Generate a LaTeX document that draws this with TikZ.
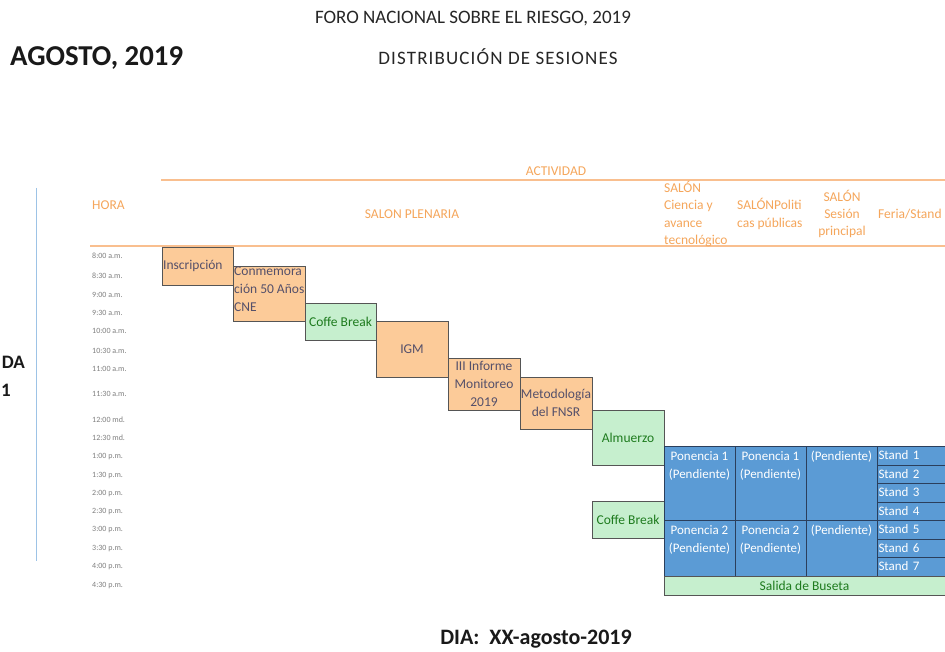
\documentclass[tikz,border=0pt]{standalone}
\usepackage{fontspec}
\setmainfont{Carlito}
\definecolor{orfill}{HTML}{FCCB99}
\definecolor{grfill}{HTML}{C6EFCE}
\definecolor{grtext}{HTML}{1E7B1E}
\definecolor{bluefill}{HTML}{5B9BD5}
\definecolor{bordergray}{HTML}{555555}
\definecolor{boxtext}{HTML}{55506A}
\definecolor{hdrorange}{HTML}{F5A65B}
\definecolor{hdrline}{HTML}{F9BF8F}
\definecolor{axisblue}{HTML}{9DC3E6}
\definecolor{timegray}{HTML}{7F7F7F}
\definecolor{bluegrid}{HTML}{2B3F5C}
\tikzset{
  x=1pt, y=-1pt,
  cell/.style={draw=bordergray, line width=0.9pt, anchor=north west, inner sep=1pt, outer sep=0pt},
  orbox/.style={cell, fill=orfill},
  grbox/.style={cell, fill=grfill, text=grtext, font=\fontsize{13.5}{18}\selectfont},
  boxlbl/.style={text=boxtext, font=\fontsize{13.5}{18}\selectfont, inner sep=0pt},
  bluebox/.style={draw=bluegrid, line width=0.8pt, fill=bluefill, text=white, anchor=north west, inner sep=1pt, outer sep=0pt, font=\fontsize{13}{18}\selectfont},
  bluelbl/.style={text=white, font=\fontsize{13}{18}\selectfont, align=center, anchor=north, inner sep=0pt},
  hdr/.style={text=hdrorange, font=\fontsize{13.5}{17.3}\selectfont, inner sep=0pt},
  timelbl/.style={text=timegray, font=\fontsize{8}{9}\selectfont, anchor=west, inner sep=0pt},
  title/.style={text=black!85, inner sep=0pt},
  boldlbl/.style={font=\bfseries, text=black!90, inner sep=0pt}
}
\begin{document}
\begin{tikzpicture}
\useasboundingbox[fill=white] (0,0) rectangle (945,652);
% titles
\node[title, font=\fontsize{19}{22}\selectfont] (t1) at (473,19) {FORO NACIONAL SOBRE EL RIESGO, 2019};
\node[title, font=\fontsize{19}{22}\selectfont\addfontfeatures{LetterSpace=6}] (t2) at (498,57) {DISTRIBUCIÓN DE SESIONES};
\node[boldlbl, font=\fontsize{28.8}{32}\selectfont\bfseries, anchor=west] (ago) at (10,58) {AGOSTO, 2019};
\node[boldlbl, font=\fontsize{22}{24}\selectfont\bfseries] (dia) at (536,639) {DIA:\ \ XX-agosto-2019};
% left side
\draw[axisblue, line width=1pt] (36,188) -- (36,561);
\node[boldlbl, font=\fontsize{19}{22}\selectfont\bfseries, anchor=east] (da) at (25,362) {DA};
\node[boldlbl, font=\fontsize{19}{22}\selectfont\bfseries, anchor=east] (one) at (11,390) {1};
% header lines
\draw[hdrline, line width=2pt] (161,180) -- (945,180);
\draw[hdrline, line width=2pt] (90,246) -- (945,246);
\node[hdr] (act) at (556,171) {ACTIVIDAD};
\node[hdr, anchor=west] (hora) at (92,205) {HORA};
\node[hdr] (plen) at (412,214) {SALON PLENARIA};
\node[hdr, anchor=west, align=left] (sc) at (664,214) {SALÓN\\Ciencia y\\avance\\tecnológico};
\node[hdr, anchor=west, align=left] (sp) at (737,214) {SALÓNPoliti\\cas públicas};
\node[hdr, align=center] (ss) at (842,214) {SALÓN\\Sesión\\principal};
\node[hdr, anchor=west] (fs) at (878,214) {Feria/Stand};
% times
\foreach \t/\y [count=\i] in {8:00 a.m./256, 8:30 a.m./276, 9:00 a.m./295, 9:30 a.m./313, 10:00 a.m./331, 10:30 a.m./351, 11:00 a.m./369, 11:30 a.m./394, 12:00 md./420, 12:30 md./438, 1:00 p.m./457, 1:30 p.m./476, 2:00 p.m./494, 2:30 p.m./512, 3:00 p.m./530, 3:30 p.m./549, 4:00 p.m./567, 4:30 p.m./586}
  \node[timelbl] (time\i) at (92,\y) {\t};
% plenary boxes
\node[orbox, minimum width=71pt, minimum height=38pt] (ins) at (162,247) {};
\node[boxlbl, anchor=west] (inst) at (163,266) {Inscripción};
\node[orbox, minimum width=72pt, minimum height=55pt] (con) at (233,266) {};
\begin{scope}
  \clip (233,266) rectangle (304,321);
  \node[boxlbl, anchor=north west, align=left] (cont) at (234,267) {Conmemora\\ción 50 Años\\CNE};
\end{scope}
\node[grbox, minimum width=71pt, minimum height=37pt] (cb1) at (305,303) {Coffe Break};
\node[orbox, minimum width=72pt, minimum height=56pt] (igm) at (376,321) {};
\node[boxlbl] (igmt) at (412,349) {IGM};
\node[orbox, minimum width=72pt, minimum height=52pt] (inf) at (448,358) {};
\node[boxlbl, align=center] (inft) at (484,384) {III Informe\\Monitoreo\\2019};
\node[orbox, minimum width=72pt, minimum height=52pt] (met) at (520,377) {};
\begin{scope}
  \clip (520,377) rectangle (591,429);
  \node[boxlbl, align=center] (mett) at (556,403) {Metodología\\del FNSR};
\end{scope}
\node[grbox, minimum width=72pt, minimum height=55pt] (alm) at (592,410) {Almuerzo};
\node[grbox, minimum width=72pt, minimum height=37pt] (cb2) at (592,501) {Coffe Break};
% blue block
\node[bluebox, minimum width=71pt, minimum height=74pt] (p1a) at (664,446) {};
\node[bluebox, minimum width=71pt, minimum height=74pt] (p1b) at (735,446) {};
\node[bluebox, minimum width=71pt, minimum height=74pt] (pe1) at (806,446) {};
\node[bluebox, minimum width=71pt, minimum height=56pt] (p2a) at (664,520) {};
\node[bluebox, minimum width=71pt, minimum height=56pt] (p2b) at (735,520) {};
\node[bluebox, minimum width=71pt, minimum height=56pt] (pe2) at (806,520) {};
\node[bluelbl] (p1at) at (699.5,451) {Ponencia 1\\(Pendiente)};
\node[bluelbl] (p1bt) at (770.5,451) {Ponencia 1\\(Pendiente)};
\node[bluelbl] (pe1t) at (841.5,451) {(Pendiente)};
\node[bluelbl] (p2at) at (699.5,525) {Ponencia 2\\(Pendiente)};
\node[bluelbl] (p2bt) at (770.5,525) {Ponencia 2\\(Pendiente)};
\node[bluelbl] (pe2t) at (841.5,525) {(Pendiente)};
\foreach \i/\y/\h in {1/446/19, 2/465/18, 3/483/19, 4/502/18, 5/520/19, 6/539/18, 7/557/19}
  \node[bluebox, minimum width=70pt, minimum height=\h pt, text width=67pt, align=left] (st\i) at (877,\y) {Stand~\i};
\node[grbox, minimum width=281pt, minimum height=19pt] (sal) at (664,576) {Salida de Buseta};
\end{tikzpicture}
\end{document}
